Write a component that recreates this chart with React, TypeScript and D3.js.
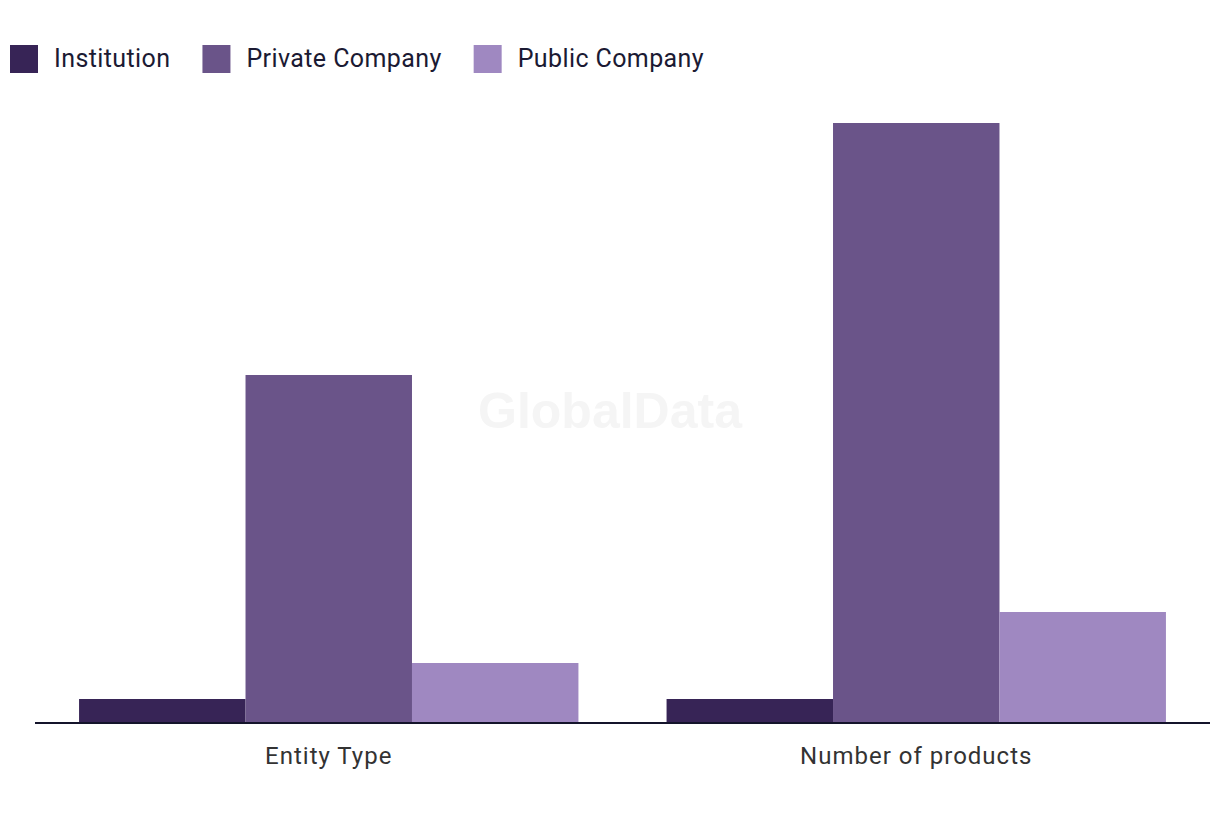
import { useMemo } from "react";
import * as d3 from "d3";

const categories = ["Entity Type", "Number of products"];
const seriesNames = ["Institution", "Private Company", "Public Company"];
const institution = [8, 8];
const privateCompany = [116, 200];
const publicCompany = [20, 37];
const colors = ["#372456", "#6a5489", "#9f88c1"];

const width = 1220;
const height = 820;
const baseline = 723;
const legendFont = "25px Roboto";
const legendSpacing = 0.4;

const measure = (text: string, font: string, spacing: number) => {
  const ctx = document.createElement("canvas").getContext("2d");
  if (!ctx) return text.length * 12;
  ctx.font = font;
  return ctx.measureText(text).width + spacing * text.length;
};

const App = () => {
  const series = [institution, privateCompany, publicCompany];

  const { x, xInner, y, legend } = useMemo(() => {
    const x = d3
      .scaleBand()
      .domain(categories)
      .range([35, 1210])
      .paddingInner(0.15)
      .paddingOuter(0.075);
    const xInner = d3
      .scaleBand()
      .domain(seriesNames)
      .range([0, x.bandwidth()]);
    const y = d3.scaleLinear().domain([0, 200]).range([baseline, 123]);

    // legend flows left to right: square, gap, label, gap
    let pos = 10;
    const legend = seriesNames.map((name, i) => {
      const item = { name, x: pos, color: colors[i] };
      pos += 28 + 16 + measure(name, legendFont, legendSpacing) + 32;
      return item;
    });
    return { x, xInner, y, legend };
  }, []);

  return (
    <div style={{ position: "absolute", left: 0, top: 0 }}>
      <svg width={width} height={height} style={{ display: "block" }}>
        <rect width={width} height={height} fill="#fff" />
        <text
          x={610}
          y={428}
          textAnchor="middle"
          fontFamily="Liberation Sans, Arial, sans-serif"
          fontWeight="bold"
          fontSize={50}
          fill="#f5f5f5"
        >
          GlobalData
        </text>

        {legend.map((d) => (
          <g key={d.name} transform={`translate(${d.x}, 45)`}>
            <rect width={28} height={28} fill={d.color} />
            <text
              x={44}
              y={22}
              fontFamily="Roboto, sans-serif"
              fontSize={25}
              letterSpacing={legendSpacing}
              fill="#1b1a33"
            >
              {d.name}
            </text>
          </g>
        ))}

        {categories.map((c, ci) => (
          <g key={c} transform={`translate(${x(c)}, 0)`}>
            {seriesNames.map((s, si) => (
              <rect
                key={s}
                x={xInner(s)}
                y={y(series[si][ci])}
                width={xInner.bandwidth()}
                height={baseline - y(series[si][ci])}
                fill={colors[si]}
              />
            ))}
            <text
              x={x.bandwidth() / 2}
              y={764}
              textAnchor="middle"
              fontFamily="Roboto, sans-serif"
              fontSize={24}
              letterSpacing={1}
              fill="#333"
            >
              {c}
            </text>
          </g>
        ))}

        <line
          x1={35}
          x2={1210}
          y1={baseline}
          y2={baseline}
          stroke="#14142b"
          strokeWidth={2}
        />
      </svg>
    </div>
  );
};

export default App;
